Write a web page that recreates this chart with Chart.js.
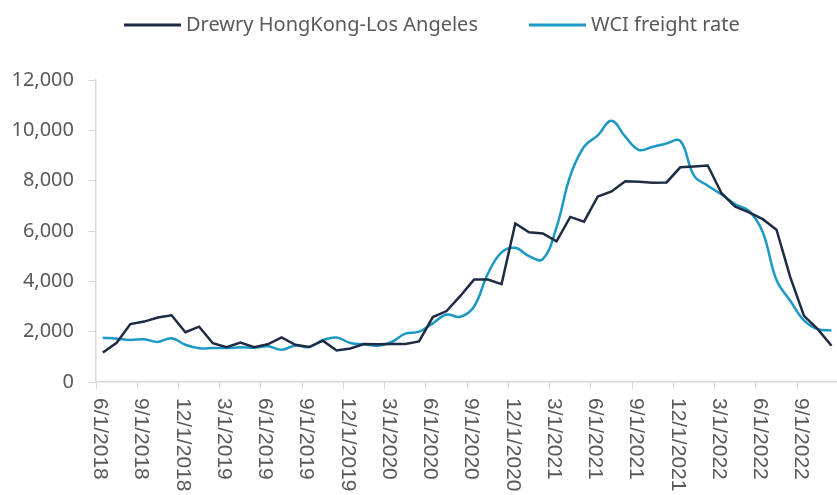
<!DOCTYPE html>
<html>
<head>
<meta charset="utf-8">
<script src="https://cdn.jsdelivr.net/npm/chart.js@4"></script>
<style>
  body { margin: 0; background: #fff; }
  #wrap { width: 837px; height: 495px; }
</style>
</head>
<body>
<div id="wrap"><canvas id="freightChart" width="837" height="495"></canvas></div>
<script>
// monthly readings, June 2018 .. November 2022 (plotted mid-month)
const drewry = [1170, 1560, 2300, 2400, 2560, 2650, 1980, 2200, 1540, 1380,
  1570, 1380, 1500, 1770, 1480, 1390, 1640, 1250, 1330, 1510,
  1500, 1510, 1510, 1610, 2580, 2820, 3420, 4070, 4070, 3890,
  6300, 5950, 5900, 5590, 6560, 6370, 7370, 7570, 7980, 7960,
  7920, 7930, 8530, 8560, 8600, 7500, 6970, 6740, 6470, 6050,
  4170, 2630, 2100, 1440];
const wci = [1760, 1720, 1670, 1700, 1590, 1740, 1480, 1340, 1350, 1350,
  1380, 1360, 1420, 1280, 1450, 1390, 1660, 1770, 1550, 1500,
  1440, 1590, 1920, 2000, 2330, 2680, 2590, 3000, 4300, 5150,
  5330, 5000, 4880, 6150, 8200, 9350, 9800, 10380, 9750, 9220,
  9350, 9480, 9580, 8200, 7800, 7450, 7060, 6800, 5950, 4050,
  3230, 2450, 2100, 2050];
const tickLabels = ['6/1/2018', '9/1/2018', '12/1/2018', '3/1/2019', '6/1/2019', '9/1/2019',
  '12/1/2019', '3/1/2020', '6/1/2020', '9/1/2020', '12/1/2020', '3/1/2021',
  '6/1/2021', '9/1/2021', '12/1/2021', '3/1/2022', '6/1/2022', '9/1/2022'];
const seriesNames = ['Drewry HongKong-Los Angeles', 'WCI freight rate'];

const textColor = '#595959';
const axisColor = '#d9d9d9';

const toPoints = (vals) => vals.map((v, i) => ({ x: i + 0.5, y: v }));

// legend: short line sample followed by the series name
const lineLegend = {
  id: 'lineLegend',
  afterDraw(chart) {
    const ctx = chart.ctx;
    const y = 25;
    let x = 124;
    ctx.save();
    ctx.font = '20px "Noto Sans"';
    ctx.textBaseline = 'middle';
    ctx.textAlign = 'left';
    chart.data.datasets.forEach(ds => {
      ctx.strokeStyle = ds.borderColor;
      ctx.lineWidth = 3;
      ctx.beginPath();
      ctx.moveTo(x, y);
      ctx.lineTo(x + 57, y);
      ctx.stroke();
      ctx.fillStyle = textColor;
      ctx.fillText(ds.label, x + 62, y);
      x += 62 + ctx.measureText(ds.label).width + 51;
    });
    ctx.restore();
  }
};

// date labels turned clockwise, read top to bottom
const dateLabels = {
  id: 'dateLabels',
  afterDraw(chart) {
    const { ctx, scales: { x } } = chart;
    ctx.save();
    ctx.font = '21px "Liberation Sans", Arial, sans-serif';
    ctx.fillStyle = textColor;
    ctx.textAlign = 'left';
    ctx.textBaseline = 'middle';
    x.ticks.forEach((t, i) => {
      ctx.save();
      ctx.translate(x.getPixelForValue(t.value) + 4, x.top + 16);
      ctx.rotate(Math.PI / 2);
      ctx.fillText(tickLabels[i], 0, 0);
      ctx.restore();
    });
    ctx.restore();
  }
};

new Chart(document.getElementById('freightChart'), {
  type: 'line',
  data: {
    datasets: [
      {
        label: seriesNames[0],
        data: toPoints(drewry),
        borderColor: '#1d2b45',
        borderWidth: 2.5,
        pointRadius: 0,
        tension: 0,
      },
      {
        label: seriesNames[1],
        data: toPoints(wci),
        borderColor: '#1b98c4',
        borderWidth: 2.5,
        pointRadius: 0,
        tension: 0.4,
      },
    ],
  },
  options: {
    responsive: false,
    animation: false,
    devicePixelRatio: 1,
    layout: { padding: { top: 80, left: 12, right: 0, bottom: 0 } },
    scales: {
      x: {
        type: 'linear',
        min: 0,
        max: 53.9,
        afterBuildTicks: s => { s.ticks = tickLabels.map((_, i) => ({ value: i * 3 })); },
        afterFit: s => { s.height = 113; },
        ticks: { display: false },
        grid: { drawOnChartArea: false, tickLength: 7, color: axisColor },
        border: { color: axisColor, width: 1.5 },
      },
      y: {
        min: 0,
        max: 12000,
        afterFit: s => { s.width = 84; },
        ticks: {
          stepSize: 2000,
          padding: 14,
          color: textColor,
          font: { family: 'Noto Sans', size: 20 },
        },
        grid: { drawOnChartArea: false, tickLength: 8, color: axisColor },
        border: { color: axisColor, width: 1.5 },
      },
    },
    plugins: {
      legend: { display: false },
      tooltip: { enabled: false },
    },
  },
  plugins: [lineLegend, dateLabels],
});
</script>
</body>
</html>
